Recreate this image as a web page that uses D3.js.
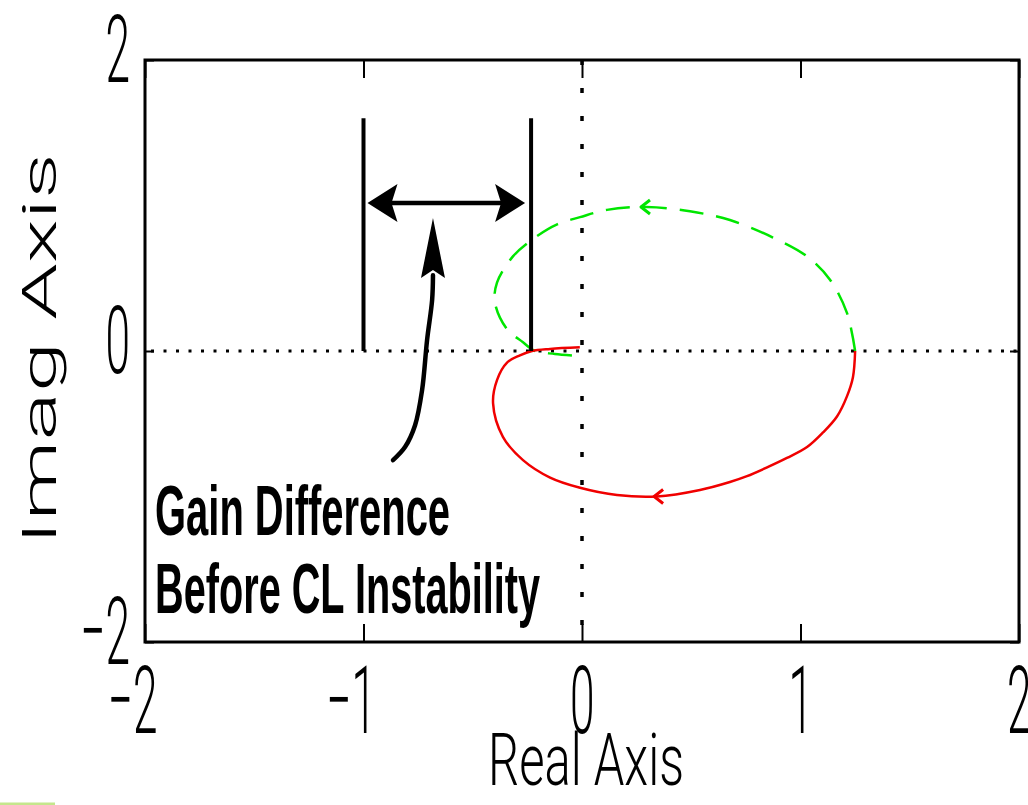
<!DOCTYPE html>
<html>
<head>
<meta charset="utf-8">
<script src="https://cdn.jsdelivr.net/npm/d3@7"></script>
<style>
  html, body { margin: 0; padding: 0; background: #fff; }
  svg { display: block; }
  text { font-family: "Liberation Sans", Arial, Helvetica, sans-serif; fill: #000; }
  text.light { font-family: Roboto, "Liberation Sans", Arial, sans-serif; font-weight: 300; }
</style>
</head>
<body>
<svg id="chart" width="1028" height="805"></svg>
<script>
// Axis ticks
const xTicks = [-2, -1, 0, 1, 2];
const yTicks = [-2, 0, 2];

// Nyquist locus, positive frequencies (solid red)
const posRe = [1.25, 1.24, 1.213, 1.167, 1.103, 1.03, 0.938, 0.847, 0.755, 0.677, 0.54, 0.343, 0.16, -0.009, -0.146, -0.27, -0.362, -0.407, -0.389, -0.343, -0.284, -0.229, -0.146, -0.01];
const posIm = [0, -0.18, -0.31, -0.45, -0.56, -0.66, -0.735, -0.80, -0.86, -0.90, -0.955, -1.0, -0.99, -0.94, -0.87, -0.75, -0.59, -0.36, -0.2, -0.08, -0.03, 0.0, 0.014, 0.025];

// Nyquist locus, negative frequencies (dashed green)
const negRe = [1.25, 1.213, 1.135, 1.03, 0.874, 0.677, 0.494, 0.297, 0.114, -0.009, -0.114, -0.224, -0.316, -0.389, -0.398, -0.343, -0.27, -0.215, -0.124, -0.01];
const negIm = [0, 0.26, 0.49, 0.65, 0.78, 0.90, 0.96, 0.99, 0.97, 0.92, 0.87, 0.77, 0.65, 0.47, 0.33, 0.15, 0.06, 0.0, -0.02, -0.035];

// Direction markers on the two branches
const posArrow = [0.33, -1.0];
const negArrow = [0.27, 0.99];

// Gain-margin bracket: critical point and real-axis crossing
const bracketRe = [-1, -0.233];
const bracketIm = [0, 1.6];
const spanIm = 1.017;

// Curved pointer from the note to the bracket
const pointerRe = [-0.865, -0.81, -0.764, -0.732, -0.709, -0.686, -0.682, -0.682];
const pointerIm = [-0.75, -0.66, -0.51, -0.27, 0.076, 0.35, 0.52, 0.914];

// Note text
const noteLines = ["Gain Difference", "Before CL Instability"];
const noteRe = -1.954;
const noteIm = [-1.265, -1.80];

const svg = d3.select("#chart");
const x = d3.scaleLinear().domain([-2, 2]).range([145, 1019]);
const y = d3.scaleLinear().domain([-2, 2]).range([642, 60]);

const fmt = d => d < 0 ? "\u2212" + Math.abs(d) : String(d);
const SX = 0.47; // horizontal squeeze of tick labels

// Zero lines (dotted)
svg.append("line")
  .attr("x1", x(-2)).attr("x2", x(2))
  .attr("y1", y(0)).attr("y2", y(0))
  .attr("stroke", "#000").attr("stroke-width", 3)
  .attr("stroke-dasharray", "3,9.5").attr("stroke-dashoffset", -6);
svg.append("line")
  .attr("x1", x(0)).attr("x2", x(0))
  .attr("y1", y(2)).attr("y2", y(-2))
  .attr("stroke", "#000").attr("stroke-width", 3.5)
  .attr("stroke-dasharray", "5,23");

// Axes (ticks pointing inward on all four sides)
const gBottom = svg.append("g").attr("transform", `translate(0,${y(-2)})`)
  .call(d3.axisBottom(x).tickValues(xTicks).tickSizeInner(-18).tickSizeOuter(0).tickFormat(fmt));
gBottom.selectAll("text")
  .attr("class", "light")
  .attr("font-size", 94).attr("text-anchor", "end")
  .attr("transform", `scale(${SX},1)`)
  .attr("x", 12 / SX).attr("y", 91).attr("dy", null);

const gLeft = svg.append("g").attr("transform", `translate(${x(-2)},0)`)
  .call(d3.axisLeft(y).tickValues(yTicks).tickSizeInner(-9).tickSizeOuter(0).tickFormat(fmt));
gLeft.selectAll("text")
  .attr("class", "light")
  .attr("font-size", 94).attr("text-anchor", "end")
  .attr("transform", `scale(${SX},1)`)
  .attr("x", -15 / SX).attr("y", 21).attr("dy", null);

svg.append("g").attr("transform", `translate(0,${y(2)})`)
  .call(d3.axisTop(x).tickValues(xTicks).tickSizeInner(-18).tickSizeOuter(0).tickFormat(""));
svg.append("g").attr("transform", `translate(${x(2)},0)`)
  .call(d3.axisRight(y).tickValues(yTicks).tickSizeInner(-9).tickSizeOuter(0).tickFormat(""));

svg.selectAll(".domain").remove();
svg.selectAll(".tick line").attr("stroke", "#000").attr("stroke-width", 2);

// Plot box
svg.append("rect")
  .attr("x", x(-2)).attr("y", y(2))
  .attr("width", x(2) - x(-2)).attr("height", y(-2) - y(2))
  .attr("fill", "none").attr("stroke", "#000").attr("stroke-width", 3);

// Nyquist branches
const line = d3.line().x(d => x(d[0])).y(d => y(d[1])).curve(d3.curveCatmullRom.alpha(0.5));
const posPts = posRe.map((r, i) => [r, posIm[i]]);
const negPts = negRe.map((r, i) => [r, negIm[i]]);

svg.append("path").attr("d", line(negPts))
  .attr("fill", "none").attr("stroke", "#00e600").attr("stroke-width", 2.5)
  .attr("stroke-dasharray", "24,13");
svg.append("path").attr("d", line(posPts))
  .attr("fill", "none").attr("stroke", "#f00000").attr("stroke-width", 2.5);

// Small direction chevrons on the loci
function chevron(pt, color) {
  const tx = x(pt[0]), ty = y(pt[1]);
  svg.append("path")
    .attr("d", `M${tx + 9},${ty - 7} L${tx},${ty} L${tx + 9},${ty + 7}`)
    .attr("fill", "none").attr("stroke", color).attr("stroke-width", 3)
    .attr("stroke-linejoin", "round");
}
chevron(negArrow, "#00e600");
chevron(posArrow, "#f00000");

// Arrowhead polygon with notched back
function head(tx, ty, dx, dy, len, hw, notch) {
  const px = -dy, py = dx;
  const bx = tx - dx * len, by = ty - dy * len;
  const nx = tx - dx * (len - notch), ny = ty - dy * (len - notch);
  return [[tx, ty], [bx + px * hw, by + py * hw], [nx, ny], [bx - px * hw, by - py * hw]];
}
const poly = pts => "M" + pts.map(p => p.join(",")).join("L") + "Z";

// Bracket verticals
bracketRe.forEach(r => {
  svg.append("line")
    .attr("x1", x(r)).attr("x2", x(r))
    .attr("y1", y(bracketIm[0])).attr("y2", y(bracketIm[1]))
    .attr("stroke", "#000").attr("stroke-width", 4);
});

// Double-headed span arrow
const lTip = x(bracketRe[0]) + 4, rTip = x(bracketRe[1]) - 6, sy = y(spanIm);
svg.append("line")
  .attr("x1", lTip + 20).attr("x2", rTip - 20)
  .attr("y1", sy).attr("y2", sy)
  .attr("stroke", "#000").attr("stroke-width", 4.5);
svg.append("path").attr("d", poly(head(lTip, sy, -1, 0, 30, 19, 6))).attr("fill", "#000");
svg.append("path").attr("d", poly(head(rTip, sy, 1, 0, 30, 19, 6))).attr("fill", "#000");

// Curved pointer
const pPts = pointerRe.map((r, i) => [r, pointerIm[i]]);
const tip = pPts[pPts.length - 1];
svg.append("path").attr("d", line(pPts.slice(0, -1)))
  .attr("fill", "none").attr("stroke", "#000").attr("stroke-width", 4.5)
  .attr("stroke-linecap", "round");
svg.append("path").attr("d", poly(head(x(tip[0]), y(tip[1]), 0, -1, 60, 12, 8))).attr("fill", "#000");

// Note text
noteLines.forEach((t, i) => {
  svg.append("text")
    .attr("x", x(noteRe)).attr("y", y(noteIm[i]))
    .attr("font-size", 70).attr("font-weight", "bold")
    .attr("textLength", i === 0 ? 295 : 385)
    .attr("lengthAdjust", "spacingAndGlyphs")
    .text(t);
});

// Axis titles
svg.append("text")
  .attr("class", "light")
  .attr("x", 488).attr("y", 785)
  .attr("font-size", 73)
  .attr("textLength", 196).attr("lengthAdjust", "spacingAndGlyphs")
  .text("Real Axis");
svg.append("text")
  .attr("class", "light")
  .attr("transform", "translate(56,349) rotate(-90)")
  .attr("text-anchor", "middle")
  .attr("font-size", 49)
  .attr("textLength", 392).attr("lengthAdjust", "spacingAndGlyphs")
  .text("Imag Axis");

// Corner strip
svg.append("rect").attr("x", 0).attr("y", 802.5).attr("width", 55).attr("height", 2.5)
  .attr("fill", "#c4e68c");
</script>
</body>
</html>
